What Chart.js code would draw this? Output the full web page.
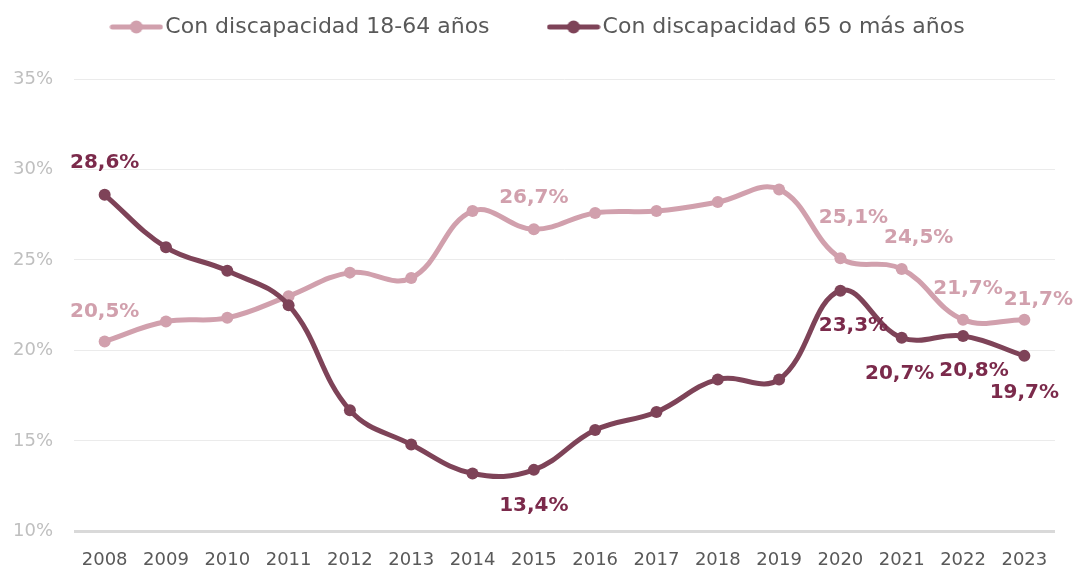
<!DOCTYPE html>
<html lang="es">
  <head>
    <meta charset="UTF-8" />
    <meta name="viewport" content="width=device-width, initial-scale=1.0" />
    <title>Tasa por discapacidad y edad</title>
    <script src="https://cdn.jsdelivr.net/npm/chart.js"></script>
    <style>
      * {
        margin: 0;
        padding: 0;
        box-sizing: border-box;
      }
      html,
      body {
        background-color: #ffffff;
        overflow: hidden;
      }
      #contenedor {
        position: relative;
        width: 1074px;
        height: 598px;
      }
    </style>
  </head>
  <body>
    <div id="contenedor">
      <canvas id="grafico"></canvas>
    </div>

    <script>
      // Datos
      const anios = [
        "2008", "2009", "2010", "2011", "2012", "2013", "2014", "2015",
        "2016", "2017", "2018", "2019", "2020", "2021", "2022", "2023",
      ];
      const nombreJoven = "Con discapacidad 18-64 años";
      const nombreMayor = "Con discapacidad 65 o más años";
      const valoresJoven = [
        20.5, 21.6, 21.8, 23.0, 24.3, 24.0, 27.7, 26.7,
        27.6, 27.7, 28.2, 28.9, 25.1, 24.5, 21.7, 21.7,
      ];
      const valoresMayor = [
        28.6, 25.7, 24.4, 22.5, 16.7, 14.8, 13.2, 13.4,
        15.6, 16.6, 18.4, 18.4, 23.3, 20.7, 20.8, 19.7,
      ];
      const marcasEje = [10, 15, 20, 25, 30, 35];

      // Qué puntos llevan etiqueta
      const etiquetasJoven = [0, 7, 12, 13, 14, 15];
      const etiquetasMayor = [0, 7, 12, 13, 14, 15];

      // Desplazamiento de cada etiqueta respecto a su punto (estilo)
      const despJoven = [[0, -30], [0, -31], [13, -40], [17, -31], [5, -31], [14, -20]];
      const despMayor = [[0, -32], [0, 36], [13, 35], [-2, 36], [11, 35], [0, 37]];

      const rosa = "#d1a0ad";
      const granate = "#7e4358";
      const granateTexto = "#7b2a4b";
      const fuente = '"DejaVu Sans", sans-serif';

      function formato(v) {
        return v.toFixed(1).replace(".", ",") + "%";
      }

      // Icono de leyenda: línea con un círculo en el centro
      function iconoLeyenda(color) {
        const c = document.createElement("canvas");
        c.width = 54;
        c.height = 14;
        const g = c.getContext("2d");
        g.strokeStyle = color;
        g.lineWidth = 5;
        g.lineCap = "round";
        g.beginPath();
        g.moveTo(3, 7);
        g.lineTo(51, 7);
        g.stroke();
        g.fillStyle = color;
        g.beginPath();
        g.arc(27, 7, 6.5, 0, Math.PI * 2);
        g.fill();
        return c;
      }

      // Etiquetas de datos
      const rotulos = {
        id: "rotulos",
        afterDatasetsDraw(chart) {
          const ctx = chart.ctx;
          ctx.save();
          ctx.font = "bold 20px " + fuente;
          ctx.textAlign = "center";
          ctx.textBaseline = "middle";
          chart.data.datasets.forEach((ds, i) => {
            const meta = chart.getDatasetMeta(i);
            ds.etiquetas.forEach((idx, k) => {
              const p = meta.data[idx];
              const [dx, dy] = ds.desplazamientos[k];
              ctx.fillStyle = ds.colorEtiqueta;
              ctx.fillText(formato(ds.data[idx]), p.x + dx, p.y + dy);
            });
          });
          ctx.restore();
        },
      };

      // Leyenda arriba con altura fija y separación amplia entre elementos
      const ajusteLeyenda = {
        id: "ajusteLeyenda",
        afterInit(chart) {
          const fitOriginal = chart.legend.fit;
          chart.legend.fit = function () {
            fitOriginal.call(this);
            this.height = 79;
          };
        },
        afterLayout(chart) {
          const ley = chart.legend;
          ley.top = -50;
          ley.left += 14;
          ley.right += 14;
        },
      };

      window.onload = () => {
        const ctx = document.getElementById("grafico").getContext("2d");
        new Chart(ctx, {
          type: "line",
          data: {
            labels: anios,
            datasets: [
              {
                label: nombreJoven,
                data: valoresJoven,
                borderColor: rosa,
                backgroundColor: rosa,
                pointBackgroundColor: rosa,
                pointBorderColor: rosa,
                borderWidth: 5,
                pointRadius: 6,
                pointBorderWidth: 0,
                tension: 0.4,
                order: 2,
                etiquetas: etiquetasJoven,
                desplazamientos: despJoven,
                colorEtiqueta: rosa,
                icono: iconoLeyenda(rosa),
              },
              {
                label: nombreMayor,
                data: valoresMayor,
                borderColor: granate,
                backgroundColor: granate,
                pointBackgroundColor: granate,
                pointBorderColor: granate,
                borderWidth: 5,
                pointRadius: 6,
                pointBorderWidth: 0,
                tension: 0.4,
                order: 1,
                etiquetas: etiquetasMayor,
                desplazamientos: despMayor,
                colorEtiqueta: granateTexto,
                icono: iconoLeyenda(granate),
              },
            ],
          },
          options: {
            responsive: true,
            maintainAspectRatio: false,
            animation: false,
            events: [],
            layout: {
              padding: { left: 0, right: 19, top: 0, bottom: 9 },
            },
            plugins: {
              tooltip: { enabled: false },
              legend: {
                position: "top",
                labels: {
                  usePointStyle: true,
                  pointStyleWidth: 36,
                  padding: 66,
                  color: "#595959",
                  font: { family: fuente, size: 22 },
                  generateLabels(chart) {
                    const base = Chart.defaults.plugins.legend.labels.generateLabels(chart);
                    base.sort((a, b) => a.datasetIndex - b.datasetIndex);
                    base.forEach((item) => {
                      item.pointStyle = chart.data.datasets[item.datasetIndex].icono;
                    });
                    return base;
                  },
                },
              },
            },
            scales: {
              x: {
                offset: true,
                grid: { display: false, drawTicks: false },
                border: { display: false },
                ticks: {
                  color: "#595959",
                  font: { family: fuente, size: 18 },
                  padding: 18,
                  maxRotation: 0,
                  autoSkip: false,
                },
              },
              y: {
                min: 10,
                max: 35,
                afterFit(scale) {
                  scale.width = 74;
                },
                afterBuildTicks(scale) {
                  scale.ticks = marcasEje.map((v) => ({ value: v }));
                },
                grid: {
                  drawTicks: false,
                  color: (c) => (c.tick && c.tick.value === 10 ? "#d9d9d9" : "#ebebeb"),
                  lineWidth: (c) => (c.tick && c.tick.value === 10 ? 3 : 1),
                },
                border: { display: false },
                ticks: {
                  color: "#bfbfbf",
                  font: { family: fuente, size: 18 },
                  padding: 21,
                  callback: (v) => v + "%",
                },
              },
            },
          },
          plugins: [rotulos, ajusteLeyenda],
        });
      };
    </script>
  </body>
</html>
